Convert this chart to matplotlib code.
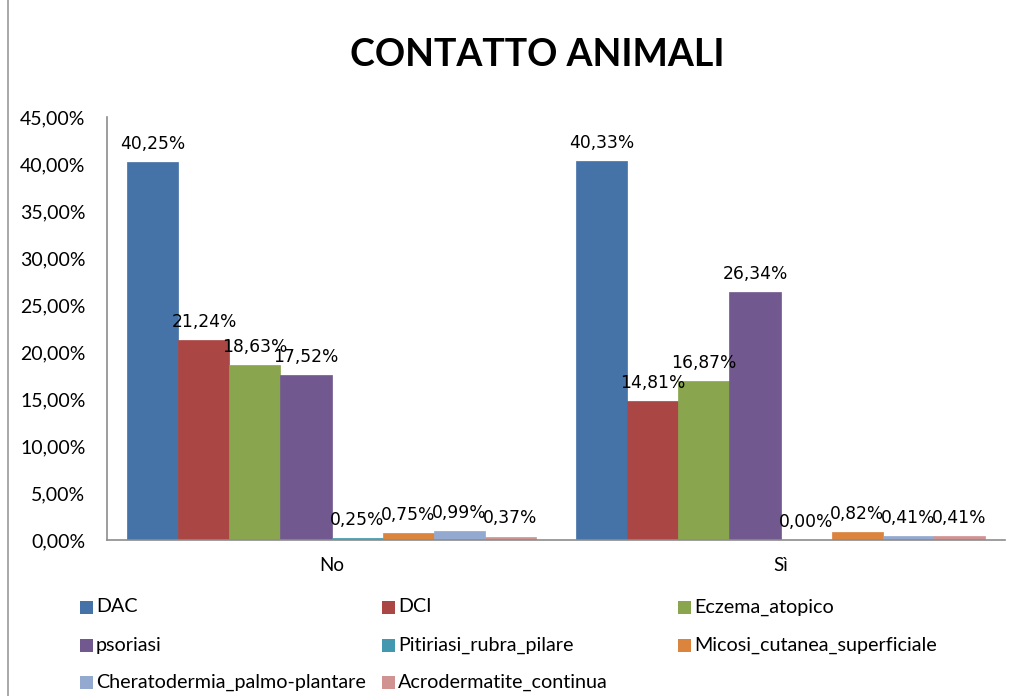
import matplotlib
matplotlib.use("Agg")
import matplotlib.pyplot as plt
import numpy as np
from matplotlib.patches import Rectangle

# Data
groups = ["No", "Sì"]
series = ["DAC", "DCI", "Eczema_atopico", "psoriasi", "Pitiriasi_rubra_pilare",
          "Micosi_cutanea_superficiale", "Cheratodermia_palmo-plantare",
          "Acrodermatite_continua"]
values_no = [40.25, 21.24, 18.63, 17.52, 0.25, 0.75, 0.99, 0.37]
values_si = [40.33, 14.81, 16.87, 26.34, 0.00, 0.82, 0.41, 0.41]
colors = ["#4572A7", "#AA4643", "#89A54E", "#71588F", "#4198AF",
          "#DB843D", "#93A9CF", "#D19392"]
yticks = [0, 5, 10, 15, 20, 25, 30, 35, 40, 45]

W, H = 1023, 696
fig = plt.figure(figsize=(W / 100, H / 100), dpi=100)
fig.patch.set_facecolor("white")

# outer chart frame (only the left edge falls inside the canvas)
fig.add_artist(Rectangle((8 / W, -0.05), 1.2, 1.2, transform=fig.transFigure,
                         fill=False, edgecolor="#9a9a9a", linewidth=1.2))

ax = fig.add_axes([107 / W, (H - 540) / H, (1005 - 107) / W, (540 - 117) / H])

tick_font = "Lato"
label_font = "DejaVu Sans"

n = len(series)
bw = 0.1136
x = np.arange(len(groups))
data = np.array([values_no, values_si])
for i in range(n):
    pos = x - bw * n / 2 + bw * (i + 0.5)
    vals = data[:, i]
    ax.bar(pos, vals, width=bw, color=colors[i], edgecolor=colors[i], linewidth=0.5)
    for px_, v in zip(pos, vals):
        ax.annotate(f"{v:.2f}%".replace(".", ","), (px_, v), xytext=(0, 13),
                    textcoords="offset points", ha="center", va="center",
                    fontsize=12.3, family=label_font, color="black")

ax.set_xlim(-0.5, 1.5)
ax.set_ylim(0, 45)
ax.set_yticks(yticks)
ax.set_yticklabels([f"{t:.2f}%".replace(".", ",") for t in yticks],
                   fontsize=14, family=tick_font)
ax.set_xticks(x)
ax.set_xticklabels(groups, fontsize=13.5, family=tick_font)
ax.tick_params(axis="y", length=0, pad=15.5)
ax.tick_params(axis="x", length=0, pad=12)
for s in ["top", "right"]:
    ax.spines[s].set_visible(False)
for s in ["left", "bottom"]:
    ax.spines[s].set_color("#8c8c8c")
    ax.spines[s].set_linewidth(1.2)

fig.text(537 / W, 1 - 55 / H, "CONTATTO ANIMALI", ha="center", va="center",
         fontsize=27, fontweight="bold", family="Lato")

# legend laid out in rows of three, as in the original chart
col_x = [80, 382, 678]
row_y = [607, 645, 682]
sw = 13
for i, name in enumerate(series):
    cx = col_x[i % 3]
    cy = row_y[i // 3]
    fig.add_artist(Rectangle((cx / W, (H - cy - sw / 2) / H), sw / W, sw / H,
                             transform=fig.transFigure, facecolor=colors[i],
                             edgecolor="none"))
    fig.text((cx + sw + 3) / W, 1 - cy / H, name, ha="left", va="center",
             fontsize=14.2, family=tick_font)

fig.savefig("out.png", dpi=100)
